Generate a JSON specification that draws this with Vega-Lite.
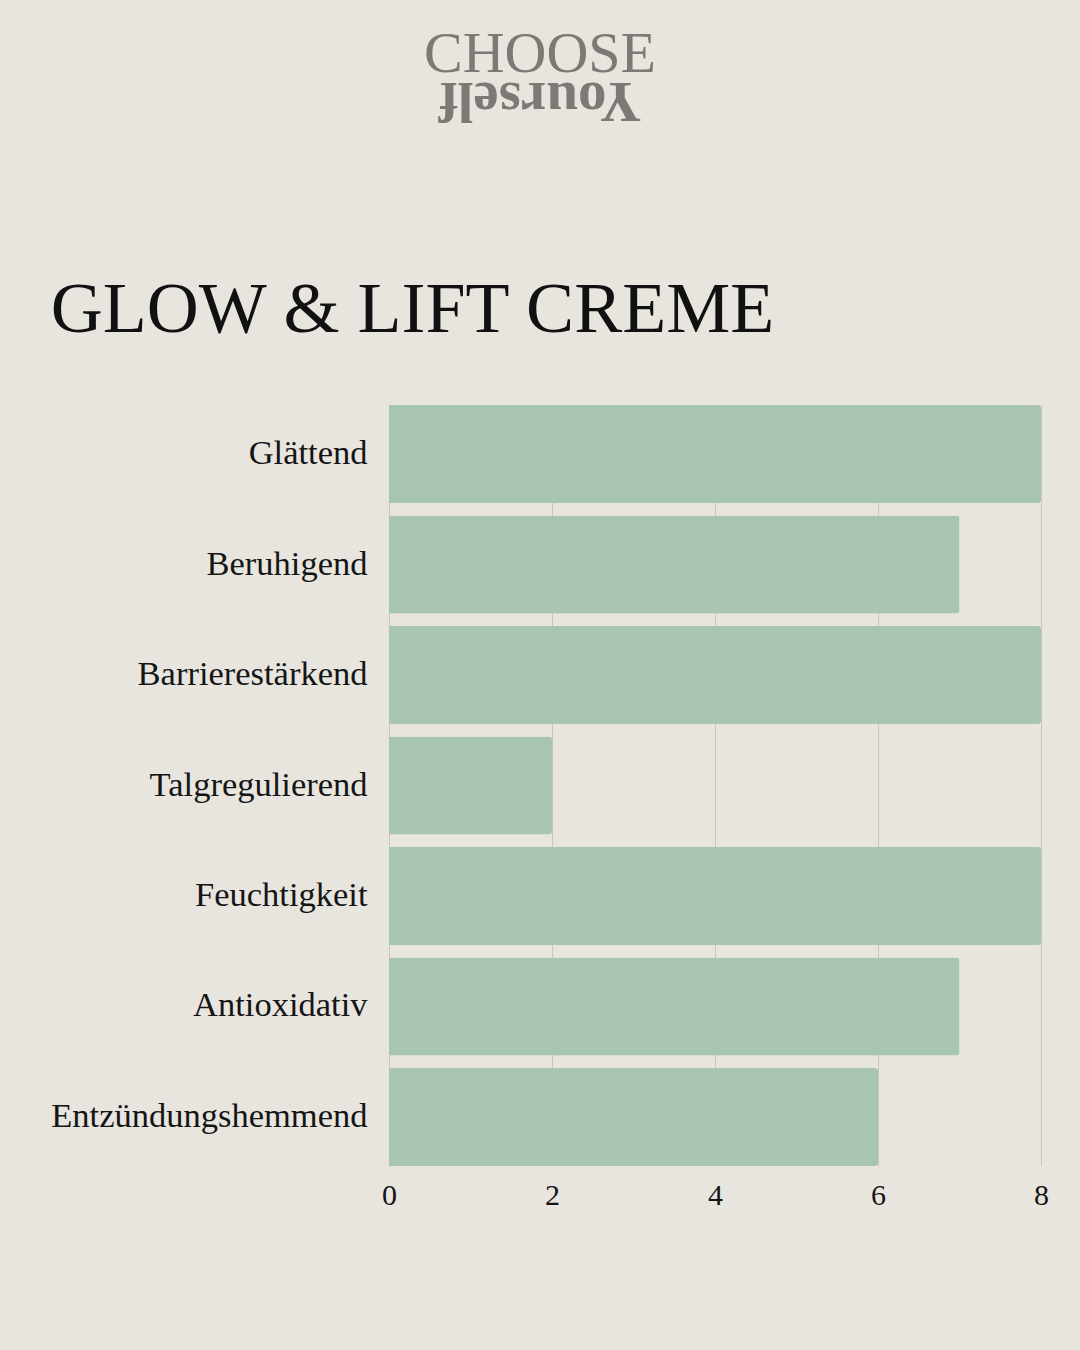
{
  "$schema": "https://vega.github.io/schema/vega-lite/v6.json",
  "background": "#E8E5DF",
  "padding": {"left": 50, "top": 25, "right": 36, "bottom": 194},
  "config": {
    "view": {"stroke": null},
    "concat": {"spacing": 144},
    "font": "Liberation Serif"
  },
  "vconcat": [
    {
      "width": 302,
      "height": 2,
      "title": {
        "text": "CHOOSE",
        "font": "Liberation Serif",
        "fontSize": 58,
        "fontWeight": "normal",
        "color": "#7B7A75",
        "anchor": "middle",
        "frame": "group",
        "offset": -12
      },
      "data": {"values": [{"word": "Yourself"}]},
      "mark": {
        "type": "text",
        "angle": 180,
        "font": "Liberation Serif",
        "fontSize": 57,
        "fontWeight": "bold",
        "color": "#7B7A75",
        "baseline": "middle",
        "align": "center"
      },
      "encoding": {"text": {"field": "word", "type": "nominal"}}
    },
    {
      "width": 652,
      "height": 761,
      "title": {
        "text": "GLOW & LIFT CREME",
        "font": "Liberation Serif",
        "fontSize": 72,
        "fontWeight": "normal",
        "color": "#111111",
        "anchor": "start",
        "frame": "bounds",
        "offset": 58
      },
      "data": {
        "values": [
          {"wirkung": "Glättend", "wert": 8},
          {"wirkung": "Beruhigend", "wert": 7},
          {"wirkung": "Barrierestärkend", "wert": 8},
          {"wirkung": "Talgregulierend", "wert": 2},
          {"wirkung": "Feuchtigkeit", "wert": 8},
          {"wirkung": "Antioxidativ", "wert": 7},
          {"wirkung": "Entzündungshemmend", "wert": 6}
        ]
      },
      "mark": {"type": "bar", "color": "#A8C4B3", "cornerRadiusEnd": 3},
      "encoding": {
        "y": {
          "field": "wirkung",
          "type": "nominal",
          "sort": null,
          "scale": {"paddingInner": 0.113, "paddingOuter": 0},
          "axis": {
            "title": null,
            "domain": false,
            "ticks": false,
            "labelFont": "Liberation Serif",
            "labelFontSize": 34.5,
            "labelColor": "#151515",
            "labelPadding": 22,
            "labelLimit": 400
          }
        },
        "x": {
          "field": "wert",
          "type": "quantitative",
          "scale": {"domain": [0, 8], "nice": false},
          "axis": {
            "title": null,
            "values": [0, 2, 4, 6, 8],
            "domain": false,
            "ticks": false,
            "grid": true,
            "gridColor": "#C9C6C0",
            "gridWidth": 1,
            "labelFont": "Liberation Serif",
            "labelFontSize": 30,
            "labelColor": "#151515",
            "labelPadding": 14,
            "labelFlush": false
          }
        }
      }
    }
  ]
}
